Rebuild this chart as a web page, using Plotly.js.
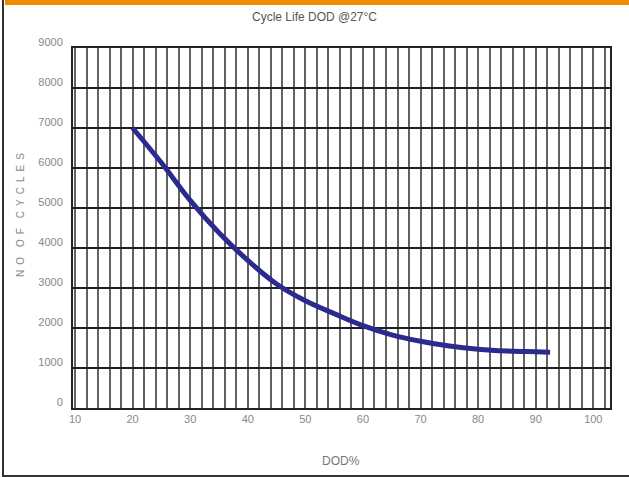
<!DOCTYPE html>
<html>
<head>
<meta charset="utf-8">
<script src="https://cdn.plot.ly/plotly-3.0.1.min.js"></script>
<style>
  html, body { margin: 0; padding: 0; background: #fff; }
  #wrap { position: relative; width: 629px; height: 477px; overflow: hidden; }
  #chart { position: absolute; left: 0; top: 0; width: 629px; height: 477px; }
  #topbar { position: absolute; left: 5px; top: 0; width: 624px; height: 5px; background: #f08c00; }
  #leftline { position: absolute; left: 2px; top: 0; width: 2px; height: 477px; background: #333; }
  #bottomline { position: absolute; left: 2px; top: 475px; width: 627px; height: 2px; background: #333; }
</style>
</head>
<body>
<div id="wrap">
  <div id="chart"></div>
  <div id="topbar"></div>
  <div id="leftline"></div>
  <div id="bottomline"></div>
</div>
<script>
// Data
const dodPercent = [20, 25, 30, 35, 40, 45, 50, 55, 60, 65, 70, 75, 80, 85, 90, 92.5];
const cycles = [7000, 6130, 5190, 4380, 3690, 3100, 2680, 2360, 2060, 1830, 1670, 1550, 1470, 1425, 1405, 1395];
const xTickVals = [10, 20, 30, 40, 50, 60, 70, 80, 90, 100];
const yTickVals = [0, 1000, 2000, 3000, 4000, 5000, 6000, 7000, 8000, 9000];

const chartTitle = 'Cycle Life DOD @27°C';
const xTitle = 'DOD%';
const sp = '\u2002';
const yTitle = ['NO', 'OF', 'CYCLES'].map(w => w.split('').join(sp)).join(sp + sp);

const sans = '"Liberation Sans", Arial, sans-serif';

const trace = {
  x: dodPercent,
  y: cycles,
  type: 'scatter',
  mode: 'lines',
  line: { color: '#2b2b8f', width: 5, shape: 'spline', smoothing: 1 },
  hoverinfo: 'skip'
};

const layout = {
  width: 629,
  height: 477,
  margin: { l: 73, r: 19, t: 48, b: 69 },
  paper_bgcolor: '#ffffff',
  plot_bgcolor: '#ffffff',
  showlegend: false,
  title: {
    text: chartTitle,
    font: { family: sans, size: 12, color: '#555' },
    x: 0.5, xanchor: 'center',
    y: 1 - 17 / 477, yanchor: 'middle', yref: 'container'
  },
  xaxis: {
    range: [9.65, 102.9],
    tickmode: 'array',
    tickvals: xTickVals,
    ticktext: xTickVals.map(String),
    tickfont: { family: sans, size: 11, color: '#888' },
    showgrid: true,
    gridcolor: '#626262',
    gridwidth: 2,
    minor: { dtick: 2, tick0: 10, showgrid: true, gridcolor: '#626262', gridwidth: 2 },
    showline: true, mirror: true, linecolor: '#222', linewidth: 2,
    ticks: '', zeroline: false, fixedrange: true
  },
  yaxis: {
    range: [0, 9000],
    tickmode: 'array',
    tickvals: yTickVals,
    ticktext: yTickVals.map(String),
    tickfont: { family: sans, size: 11, color: '#888' },
    ticklabelshift: -6,
    ticklabelstandoff: 6,
    showgrid: true,
    gridcolor: '#1e1e1e',
    gridwidth: 2,
    showline: true, mirror: true, linecolor: '#222', linewidth: 2,
    ticks: '', zeroline: false, fixedrange: true
  },
  annotations: [
    {
      text: yTitle, textangle: -90,
      xref: 'paper', yref: 'paper', x: 0, y: 0.536,
      xanchor: 'center', yanchor: 'middle', xshift: -53,
      showarrow: false,
      font: { family: sans, size: 10, color: '#888' }
    },
    {
      text: xTitle,
      xref: 'paper', yref: 'paper', x: 0.499, y: 0,
      xanchor: 'center', yanchor: 'middle', yshift: -53,
      showarrow: false,
      font: { family: sans, size: 12, color: '#777' }
    }
  ]
};

Plotly.newPlot('chart', [trace], layout, { displayModeBar: false, staticPlot: true });
</script>
</body>
</html>
